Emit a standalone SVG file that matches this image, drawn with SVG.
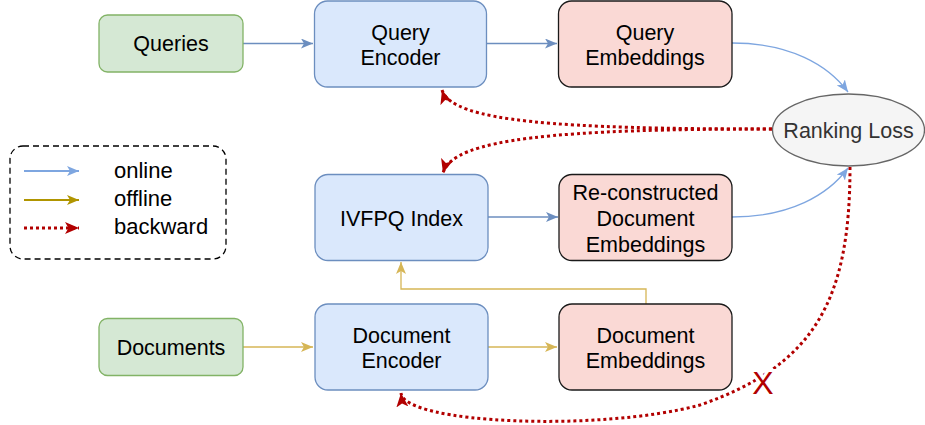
<svg xmlns="http://www.w3.org/2000/svg" width="925" height="425" viewBox="0 0 925 425">
  <defs>
    <style>
      text { font-family: "Liberation Sans", Arial, sans-serif; font-size: 21.5px; fill: #000; text-anchor: middle; }
      .input rect { fill: #d5e8d4; stroke: #82b366; stroke-width: 1.3; }
      .proc rect { fill: #dae8fc; stroke: #6c8ebf; stroke-width: 1.3; }
      .emb rect { fill: #fad9d5; stroke: #1a1a1a; stroke-width: 1.3; }
      .loss ellipse { fill: #f5f5f5; stroke: #666666; stroke-width: 1.3; }
      .loss text { fill: #333333; }
      .online { fill: none; stroke: #6c8ebf; stroke-width: 1.3; }
      .online-c { fill: none; stroke: #7ea6e0; stroke-width: 1.3; }
      .offline { fill: none; stroke: #d6b656; stroke-width: 1.3; }
      .backward { fill: none; stroke: #b20000; stroke-width: 3; stroke-dasharray: 3 3; }
      .legend-box { fill: none; stroke: #000; stroke-width: 1.3; stroke-dasharray: 6 4; }
      .legend text { text-anchor: start; font-size: 22px; }
      .cut { fill: #b20000; font-size: 32px; stroke: #ffffff; stroke-width: 6; paint-order: stroke; }
    </style>
    <marker id="ah-online" viewBox="0 0 12 10" refX="12" refY="5" markerWidth="12" markerHeight="10" markerUnits="userSpaceOnUse" orient="auto">
      <path d="M0,0 L12,5 L0,10 L3,5 Z" fill="#6c8ebf"/>
    </marker>
    <marker id="ah-online-c" viewBox="0 0 12 10" refX="12" refY="5" markerWidth="12" markerHeight="10" markerUnits="userSpaceOnUse" orient="auto">
      <path d="M0,0 L12,5 L0,10 L3,5 Z" fill="#7ea6e0"/>
    </marker>
    <marker id="ah-offline" viewBox="0 0 12 10" refX="12" refY="5" markerWidth="12" markerHeight="10" markerUnits="userSpaceOnUse" orient="auto">
      <path d="M0,0 L12,5 L0,10 L3,5 Z" fill="#d6b656"/>
    </marker>
    <marker id="ah-offline-l" viewBox="0 0 12 10" refX="12" refY="5" markerWidth="12" markerHeight="10" markerUnits="userSpaceOnUse" orient="auto">
      <path d="M0,0 L12,5 L0,10 L3,5 Z" fill="#b09500"/>
    </marker>
    <marker id="ah-back" viewBox="0 0 14 12" refX="14" refY="6" markerWidth="14" markerHeight="12" markerUnits="userSpaceOnUse" orient="auto">
      <path d="M0,0 L14,6 L0,12 L3.5,6 Z" fill="#b20000"/>
    </marker>
  </defs>

  <!-- legend -->
  <g id="legend" class="legend">
    <rect class="legend-box" x="10" y="146" width="216" height="113" rx="13"/>
    <path d="M24 171 H79" fill="none" stroke="#7ea6e0" stroke-width="2" marker-end="url(#ah-online-c)"/>
    <path d="M24 200 H79" fill="none" stroke="#b09500" stroke-width="2" marker-end="url(#ah-offline-l)"/>
    <path d="M24 228 H79" class="backward" marker-end="url(#ah-back)"/>
    <text x="114" y="177.5">online</text>
    <text x="114" y="206">offline</text>
    <text x="114" y="234">backward</text>
  </g>

  <!-- connectors -->
  <g id="connectors">
    <path class="online" d="M243 43.5 H313" marker-end="url(#ah-online)"/>
    <path class="online" d="M487 43.5 H557" marker-end="url(#ah-online)"/>
    <path class="online" d="M488 217 H558" marker-end="url(#ah-online)"/>
    <path class="online-c" d="M732 43 C790 43, 828 65, 848 92" marker-end="url(#ah-online-c)"/>
    <path class="online-c" d="M732 217 C790 217, 828 195, 848 168" marker-end="url(#ah-online-c)"/>
    <path class="offline" d="M243 347 H313" marker-end="url(#ah-offline)"/>
    <path class="offline" d="M488 347 H557" marker-end="url(#ah-offline)"/>
    <path class="offline" d="M646 304 V289 H401 V262" marker-end="url(#ah-offline)"/>
    <path class="backward" d="M772 129 C560 129, 452 122, 442 90" marker-end="url(#ah-back)"/>
    <path class="backward" d="M772 129 C560 129, 453 138, 443 173" marker-end="url(#ah-back)"/>
    <path class="backward" d="M850 167 C850 300, 815 365, 700 405 C600 432, 404 424, 401 393" marker-end="url(#ah-back)"/>
    <text class="cut" x="763" y="393.5">X</text>
  </g>

  <!-- nodes -->
  <g id="queries" class="input">
    <rect x="99" y="15" width="144" height="57" rx="8.5"/>
    <text x="171" y="51">Queries</text>
  </g>
  <g id="documents" class="input">
    <rect x="99" y="318.5" width="144" height="57" rx="8.5"/>
    <text x="171" y="354.5">Documents</text>
  </g>
  <g id="query-encoder" class="proc">
    <rect x="314.5" y="1" width="172" height="86" rx="13"/>
    <text x="400.5" y="40">Query</text>
    <text x="400.5" y="65">Encoder</text>
  </g>
  <g id="query-embeddings" class="emb">
    <rect x="558.5" y="1" width="173.5" height="86" rx="13"/>
    <text x="645" y="40">Query</text>
    <text x="645" y="65">Embeddings</text>
  </g>
  <g id="ivfpq-index" class="proc">
    <rect x="315" y="174.5" width="173" height="86" rx="13"/>
    <text x="401.5" y="225.5">IVFPQ Index</text>
  </g>
  <g id="reconstructed-embeddings" class="emb">
    <rect x="559" y="174.5" width="173" height="86" rx="13"/>
    <text x="645.5" y="200">Re-constructed</text>
    <text x="645.5" y="226">Document</text>
    <text x="645.5" y="251.5">Embeddings</text>
  </g>
  <g id="document-encoder" class="proc">
    <rect x="315" y="304" width="173" height="86" rx="13"/>
    <text x="401.5" y="343">Document</text>
    <text x="401.5" y="368">Encoder</text>
  </g>
  <g id="document-embeddings" class="emb">
    <rect x="559" y="304" width="173" height="86" rx="13"/>
    <text x="645.5" y="343">Document</text>
    <text x="645.5" y="368">Embeddings</text>
  </g>
  <g id="ranking-loss" class="loss">
    <ellipse cx="848.5" cy="130" rx="76" ry="36"/>
    <text x="848.5" y="138">Ranking Loss</text>
  </g>
</svg>
